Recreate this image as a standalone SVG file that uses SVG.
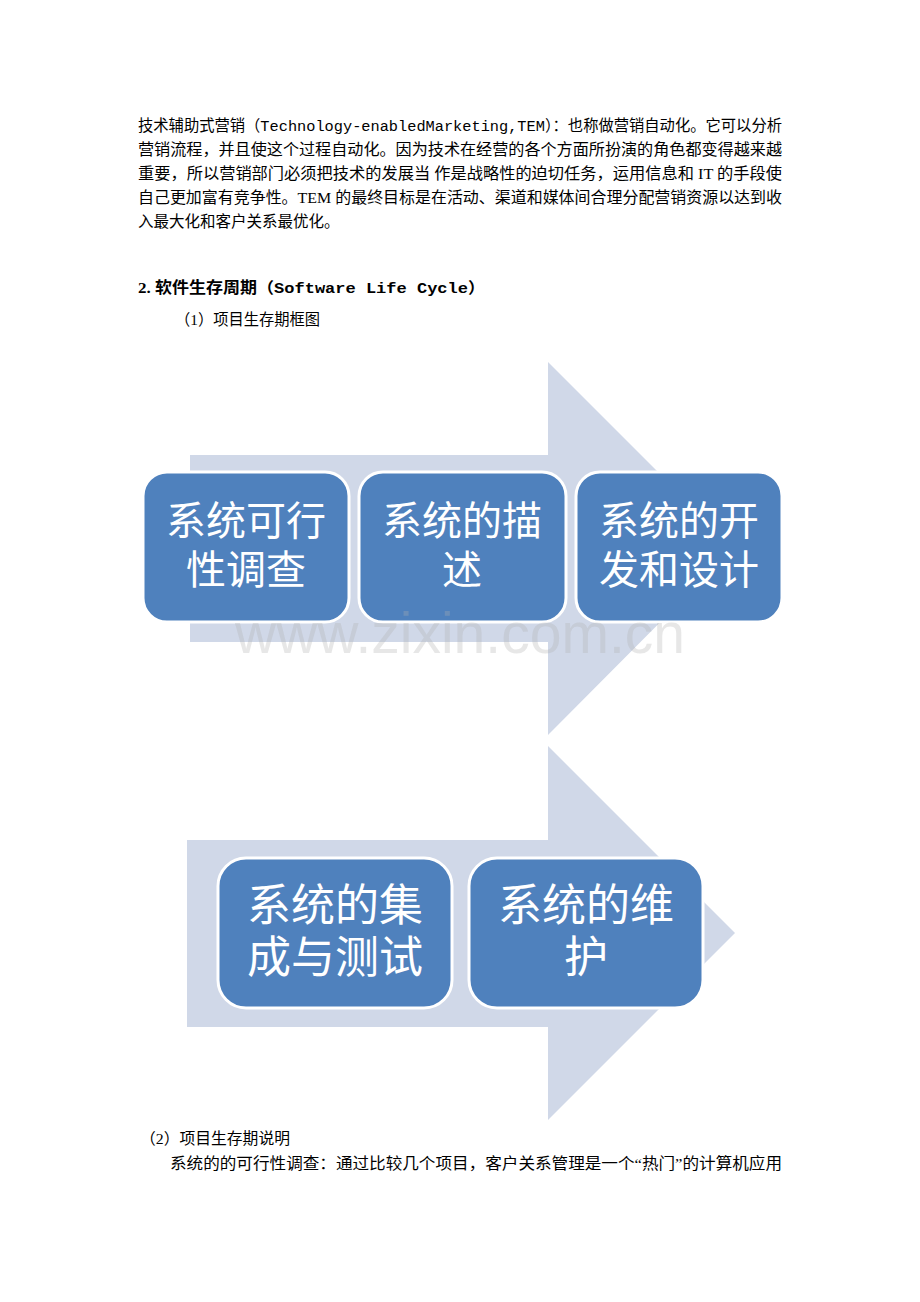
<svg xmlns="http://www.w3.org/2000/svg" width="920" height="1302" viewBox="0 0 920 1302">
<style>
.body{font-family:"Liberation Serif","Noto Sans CJK SC",serif;font-size:15.5px;fill:#000}
.mono{font-family:"Liberation Mono","Noto Sans CJK SC",monospace}
.arrow{fill:#d0d8e8}
.box{fill:#4f81bd;stroke:#fff;stroke-width:3}
.lbl1{font-family:"Liberation Sans","Noto Sans CJK SC","Noto Sans CJK JP",sans-serif;font-size:40px;fill:#fff;text-anchor:middle}
.lbl2{font-family:"Liberation Sans","Noto Sans CJK SC","Noto Sans CJK JP",sans-serif;font-size:44px;fill:#fff;text-anchor:middle}
.wm{font-family:"Liberation Sans",Arial,sans-serif;font-size:57px;fill:#b0b0b0;fill-opacity:0.3}
</style>
<rect width="920" height="1302" fill="#fff"/>
<g id="intro">
<text class="body" x="138" y="131" textLength="644" lengthAdjust="spacingAndGlyphs">技术辅助式营销（<tspan class="mono">Technology-enabledMarketing,TEM</tspan>）：也称做营销自动化。它可以分析</text>
<text class="body" x="138" y="155" textLength="644" lengthAdjust="spacingAndGlyphs">营销流程，并且使这个过程自动化。因为技术在经营的各个方面所扮演的角色都变得越来越</text>
<text class="body" x="138" y="179" textLength="644" lengthAdjust="spacingAndGlyphs">重要，所以营销部门必须把技术的发展当 作是战略性的迫切任务，运用信息和 IT 的手段使</text>
<text class="body" x="138" y="203" textLength="644" lengthAdjust="spacingAndGlyphs">自己更加富有竞争性。TEM 的最终目标是在活动、渠道和媒体间合理分配营销资源以达到收</text>
<text class="body" x="138" y="227">入最大化和客户关系最优化。</text>
</g>
<g id="heading">
<text class="body" x="138" y="293" font-weight="bold" textLength="347" lengthAdjust="spacingAndGlyphs">2. 软件生存周期（<tspan class="mono">Software Life Cycle</tspan>）</text>
<text class="body" x="175" y="325" font-size="14.5" textLength="145" lengthAdjust="spacingAndGlyphs">（1）项目生存期框图</text>
</g>
<g id="arrows">
<polygon class="arrow" points="190,455 548,455 548,362 734,548 548,735 548,642 190,642"/>
<polygon class="arrow" points="187,840 548,840 548,746 735,933 548,1120 548,1027 187,1027"/>
</g>
<g id="node1">
<rect class="box" x="143" y="472" width="206" height="150" rx="24"/>
<text class="lbl1"><tspan x="246" y="535">系统可行</tspan><tspan x="246" y="584">性调查</tspan></text>
</g>
<g id="node2">
<rect class="box" x="359" y="472" width="207" height="150" rx="24"/>
<text class="lbl1"><tspan x="462" y="535">系统的描</tspan><tspan x="462" y="584">述</tspan></text>
</g>
<g id="node3">
<rect class="box" x="576" y="472" width="206" height="150" rx="24"/>
<text class="lbl1"><tspan x="679" y="535">系统的开</tspan><tspan x="679" y="584">发和设计</tspan></text>
</g>
<g id="node4">
<rect class="box" x="218" y="858" width="234" height="150" rx="28"/>
<text class="lbl2"><tspan x="335" y="921">系统的集</tspan><tspan x="335" y="973">成与测试</tspan></text>
</g>
<g id="node5">
<rect class="box" x="469" y="858" width="234" height="150" rx="28"/>
<text class="lbl2"><tspan x="586" y="921">系统的维</tspan><tspan x="586" y="973">护</tspan></text>
</g>
<g id="watermark">
<text class="wm" x="235" y="653" textLength="450" lengthAdjust="spacingAndGlyphs">www.zixin.com.cn</text>
</g>
<g id="footer">
<text class="body" x="140" y="1144" textLength="150" lengthAdjust="spacingAndGlyphs">（2）项目生存期说明</text>
<text class="body" x="170" y="1169" textLength="612" lengthAdjust="spacingAndGlyphs">系统的的可行性调查：通过比较几个项目，客户关系管理是一个“热门”的计算机应用</text>
</g>
</svg>
